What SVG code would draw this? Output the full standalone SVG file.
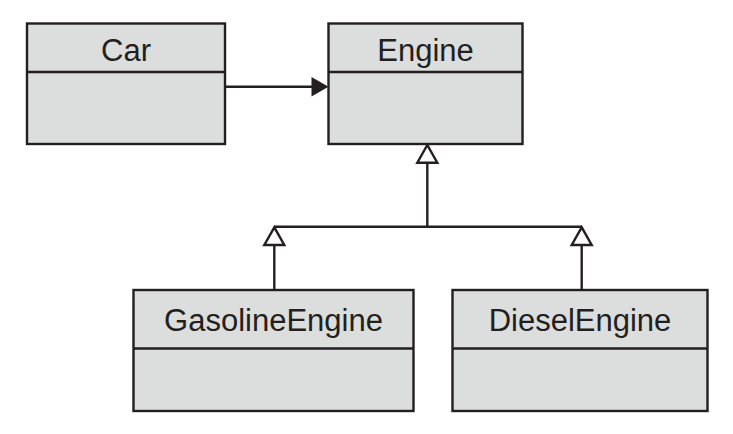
<svg xmlns="http://www.w3.org/2000/svg" width="733" height="434" viewBox="0 0 733 434">
<style>
.box{fill:#dcdddd;stroke:#231f20;stroke-width:2.4}
.div{stroke:#231f20;stroke-width:2.4;fill:none}
.lbl{font-family:"Liberation Sans",Arial,sans-serif;font-size:31px;fill:#231f20;text-anchor:middle}
.ln{stroke:#231f20;stroke-width:2.4;fill:none}
.hollow{fill:#ffffff;stroke:#231f20;stroke-width:2.4;stroke-linejoin:miter}
.solid{fill:#231f20;stroke:none}
</style>
<rect width="733" height="434" fill="#ffffff"/>
<g id="connectors">
<line class="ln" x1="225" y1="86.7" x2="313" y2="86.7"/>
<polygon class="solid" points="328.5,86.7 311.5,77 311.5,96.4"/>
<line class="ln" x1="427.3" y1="162.7" x2="427.3" y2="226.7"/>
<line class="ln" x1="274.3" y1="226.7" x2="581.7" y2="226.7"/>
<line class="ln" x1="274.3" y1="245" x2="274.3" y2="290"/>
<line class="ln" x1="581.7" y1="245" x2="581.7" y2="290"/>
<polygon class="hollow" points="427.3,145 417.3,162.7 437.3,162.7"/>
<polygon class="hollow" points="274.3,227.3 264.3,245 284.3,245"/>
<polygon class="hollow" points="581.7,227.3 571.7,245 591.7,245"/>
</g>
<g id="car">
<rect class="box" x="27" y="23.5" width="198" height="120.5"/>
<line class="div" x1="27" y1="72" x2="225" y2="72"/>
<text class="lbl" x="126" y="60.5">Car</text>
</g>
<g id="engine">
<rect class="box" x="328.5" y="23.5" width="194" height="120.5"/>
<line class="div" x1="328.5" y1="72" x2="522.5" y2="72"/>
<text class="lbl" x="425.5" y="60.5">Engine</text>
</g>
<g id="gasolineEngine">
<rect class="box" x="133.5" y="290" width="280" height="121"/>
<line class="div" x1="133.5" y1="348.5" x2="413.5" y2="348.5"/>
<text class="lbl" x="273.5" y="331">GasolineEngine</text>
</g>
<g id="dieselEngine">
<rect class="box" x="452.5" y="290" width="255" height="121"/>
<line class="div" x1="452.5" y1="348.5" x2="707.5" y2="348.5"/>
<text class="lbl" x="580" y="331">DieselEngine</text>
</g>
</svg>
